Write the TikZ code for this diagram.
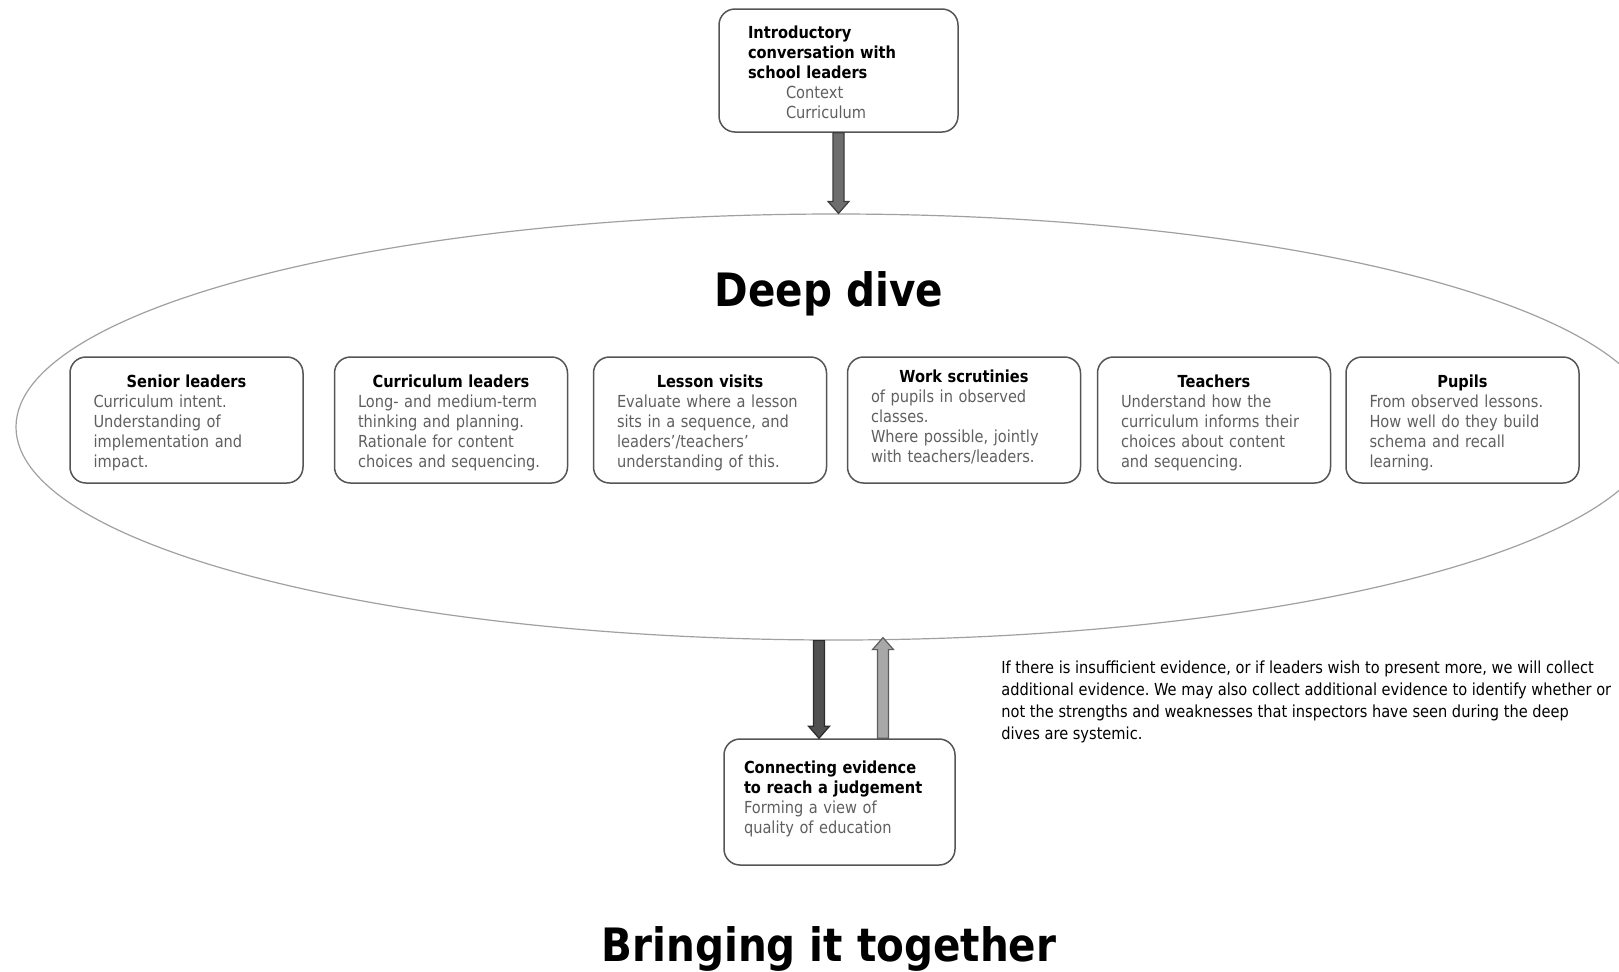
\documentclass[tikz,border=0pt]{standalone}
\usepackage{fontspec}
\setmainfont{DejaVu Sans}[FakeStretch=0.88]
\usepackage{tikz}
\usetikzlibrary{shapes.geometric, calc}
\usepackage{xcolor}
\definecolor{boxline}{RGB}{85,85,85}
\definecolor{bodygray}{RGB}{95,95,95}
\definecolor{ringgray}{RGB}{160,160,160}
\definecolor{darkfill}{RGB}{80,80,80}
\definecolor{midfill}{RGB}{110,110,110}
\definecolor{lightfill}{RGB}{168,168,168}
\frenchspacing
\newcommand{\boxhead}[1]{{\centering\bfseries\color{black}#1\par}}
\newcommand{\boxtail}{\par\vspace{-3pt}}
\newcommand{\blockarrow}[4]{\draw[draw=#3!55!black, fill=#3, line width=0.6pt] ($(#1)+(-5.5,0)$) -- ($(#2)+(-5.5,#4)$) -- ($(#2)+(-10.5,#4)$) -- (#2) -- ($(#2)+(10.5,#4)$) -- ($(#2)+(5.5,#4)$) -- ($(#1)+(5.5,0)$) -- cycle;}

\begin{document}
\begin{tikzpicture}[x=0.5pt, y=-0.5pt,
    roundbox/.style={draw=boxline, line width=0.75pt, rounded corners=8pt, inner sep=0pt, align=left, text=bodygray, font=\fontsize{8.3}{10}\selectfont},
    deepbox/.style={roundbox, minimum width=116.5pt, minimum height=63pt, text width=93pt, execute at end node=\boxtail},
    bigtitle/.style={font=\bfseries\fontsize{23}{28}\selectfont, anchor=base}]
    \useasboundingbox (0,0) rectangle (1619,971);
    \node[draw=ringgray, line width=0.6pt, ellipse, minimum width=820pt, minimum height=213pt, inner sep=0pt] (dive) at (836,427) {};
    \node[bigtitle] (divetitle) at (829,306) {Deep dive};
    \node[roundbox, minimum width=119.5pt, minimum height=61.5pt, text width=90.5pt] (intro) at (838.5,70.5) {{\color{black}\bfseries Introductory\\conversation with\\school leaders}\\\hspace*{19pt}Context\\\hspace*{19pt}Curriculum\par\vspace{-2pt}};
    \node[deepbox] (senior) at (186.5,420) {\boxhead{Senior leaders}Curriculum intent.\\Understanding of\\implementation and\\impact.};
    \node[deepbox] (curric) at (451,420) {\boxhead{Curriculum leaders}Long- and medium-term\\thinking and planning.\\Rationale for content\\choices and sequencing.};
    \node[deepbox] (lesson) at (710,420) {\boxhead{Lesson visits}Evaluate where a lesson\\sits in a sequence, and\\leaders’/teachers’\\understanding of this.};
    \node[deepbox] (work) at (964,420) {\boxhead{Work scrutinies}of pupils in observed\\classes.\\Where possible, jointly\\with teachers/leaders.\par\vspace{6pt}};
    \node[deepbox] (teachers) at (1214,420) {\boxhead{Teachers}Understand how the\\curriculum informs their\\choices about content\\and sequencing.};
    \node[deepbox] (pupils) at (1462.5,420) {\boxhead{Pupils}From observed lessons.\\How well do they build\\schema and recall\\learning.};
    \node[roundbox, minimum width=115.5pt, minimum height=63pt, text width=95.5pt] (judge) at (839.5,802) {{\color{black}\bfseries Connecting evidence\\to reach a judgement}\\Forming a view of\\quality of education\par\vspace{3pt}};
    \node[anchor=north west, inner sep=0pt, align=left, font=\fontsize{8.3}{11}\selectfont] (extra) at (1001,660) {If there is insufficient evidence, or if leaders wish to present more, we will collect\\additional evidence. We may also collect additional evidence to identify whether or\\not the strengths and weaknesses that inspectors have seen during the deep\\dives are systemic.};
    \node[bigtitle] (together) at (829,961) {Bringing it together};
    \coordinate (introtip) at (intro.south |- dive.north);
    \coordinate (downtop) at ($(dive.south)+(-17,0)$);
    \coordinate (downtip) at (downtop |- judge.north);
    \coordinate (upfoot) at ($(judge.north)+(43.5,0)$);
    \coordinate (uptip) at ($(upfoot |- dive.south)+(0,-3)$);
    \blockarrow{intro.south}{introtip}{midfill}{-12}
    \blockarrow{downtop}{downtip}{darkfill}{-12}
    \blockarrow{upfoot}{uptip}{lightfill}{12}
\end{tikzpicture}
\end{document}
